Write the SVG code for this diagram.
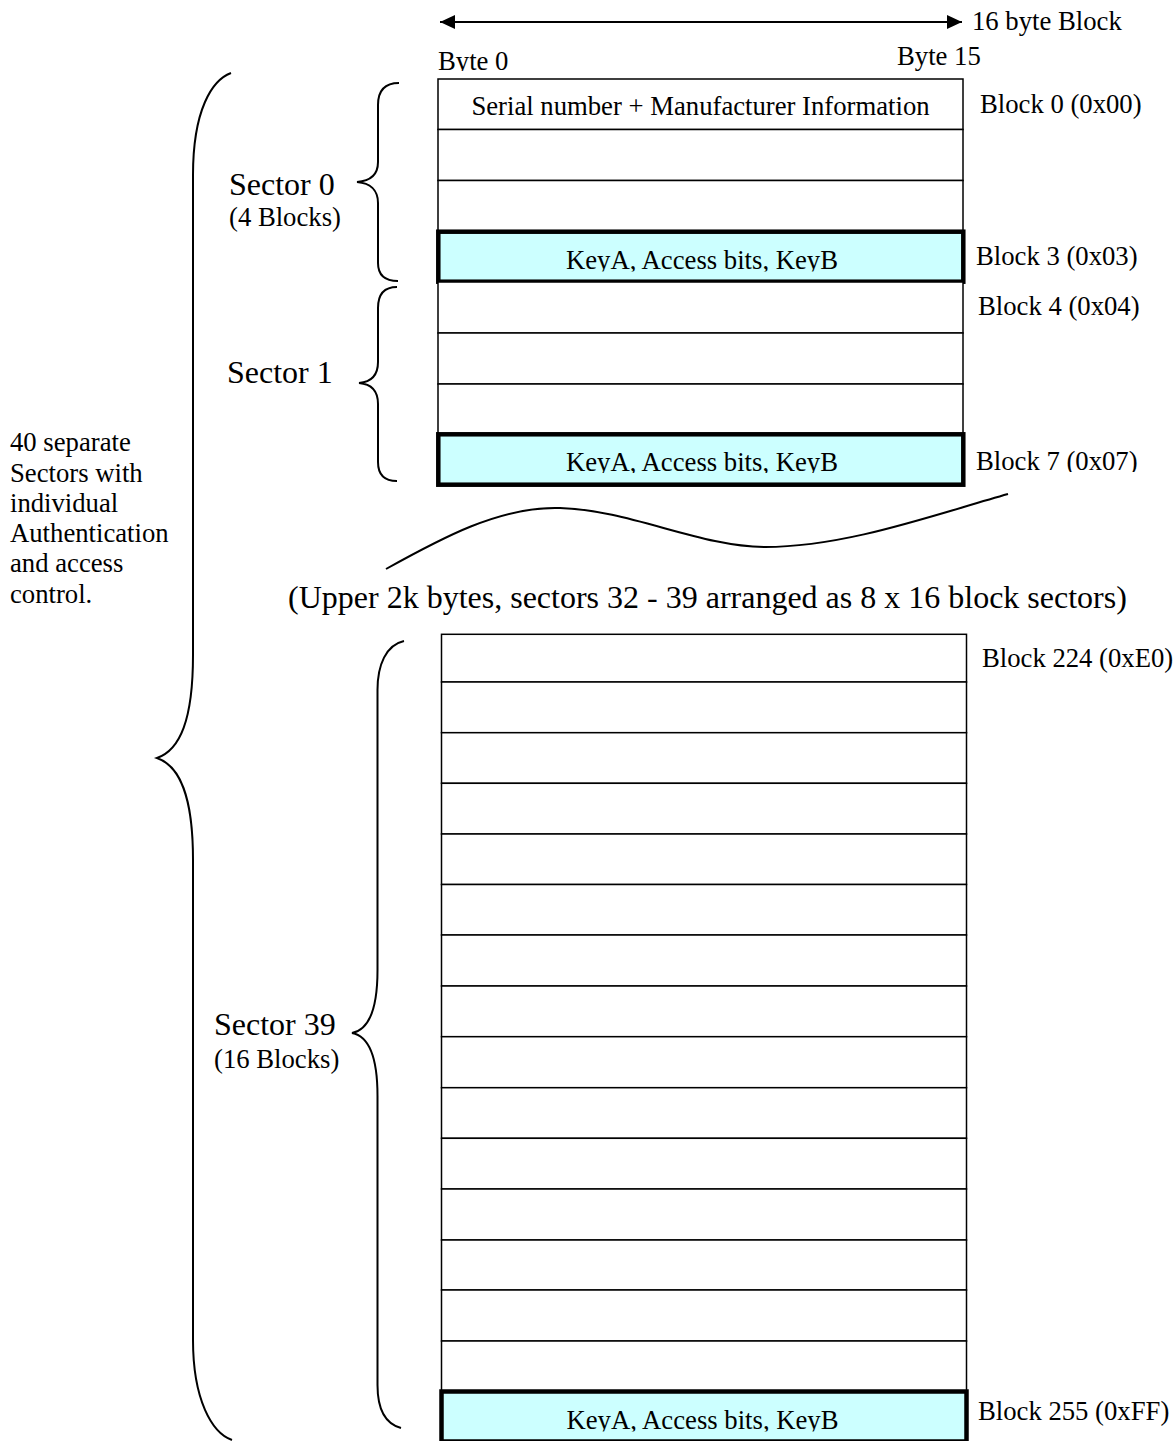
<svg xmlns="http://www.w3.org/2000/svg" width="1175" height="1441" viewBox="0 0 1175 1441">
<style>
.t{font-family:"Liberation Serif","Times New Roman",serif;font-size:26.7px;fill:#000}
.big{font-size:32px}
.mid{text-anchor:middle}
.cell{fill:#fff;stroke:#000;stroke-width:1.5}
.key{fill:#CCFFFF;stroke:#000;stroke-width:4.5}
.ln{fill:none;stroke:#000;stroke-width:2}
</style>
<defs>
<marker id="ah" viewBox="0 0 15 14" refX="15" refY="7" markerWidth="15" markerHeight="14" markerUnits="userSpaceOnUse" orient="auto-start-reverse">
<path d="M0,0 L15,7 L0,14 z" fill="#000"/>
</marker>
<clipPath id="cb0"><rect x="400" y="40" width="200" height="31"/></clipPath>
<clipPath id="ck3"><rect x="440" y="234" width="521" height="37.5"/></clipPath>
<clipPath id="ck7"><rect x="440" y="437" width="521" height="36"/></clipPath>
<clipPath id="cl7"><rect x="970" y="430" width="200" height="42"/></clipPath>
<clipPath id="ck255"><rect x="443" y="1394" width="521" height="37.5"/></clipPath>
</defs>
<rect width="1175" height="1441" fill="#fff"/>

<g id="connectors">
<line class="ln" x1="440" y1="22" x2="962" y2="22" marker-start="url(#ah)" marker-end="url(#ah)"/>
<path id="brace-all" class="ln" d="M231,73 C212,80 193,110 193,175 L193,655 C193,720 180,750 157,758 C180,766 193,796 193,860 L193,1340 C193,1400 212,1433 232,1440"/>
<path id="brace-s0" class="ln" d="M399,83 C385,83 378,90 378,105 L378,162 C378,175 370,181 357,182 C370,183 378,190 378,203 L378,263 C378,275 385,281 398,281"/>
<path id="brace-s1" class="ln" d="M397,287 C384,287 378,294 378,308 L378,362 C378,375 371,382 359,383 C371,384 378,391 378,404 L378,462 C378,475 384,481 397,481"/>
<path id="brace-s39" class="ln" d="M404,641 C386,645 377.5,665 377.5,690 L377.5,970 C377.5,1010 368,1030 352,1033 C368,1036 377.5,1056 377.5,1096 L377.5,1385 C377.5,1410 386,1424 401,1428"/>
<path id="gap-wave" class="ln" d="M386,569 C440,539 500,506 560,508 C630,510 700,547 765,547 C845,547 930,516 1008,494"/>
</g>

<g id="header">
<text class="t" x="972" y="30">16 byte Block</text>
<text class="t" x="438" y="70" clip-path="url(#cb0)">Byte 0</text>
<text class="t" x="897" y="65">Byte 15</text>
</g>

<g id="sector0">
<g id="block0"><rect class="cell" x="438" y="79" width="525" height="50.5"/><text class="t mid" x="700.5" y="115">Serial number + Manufacturer Information</text><text class="t" x="980" y="113">Block 0 (0x00)</text></g>
<g id="block1"><rect class="cell" x="438" y="129.5" width="525" height="51"/></g>
<g id="block2"><rect class="cell" x="438" y="180.5" width="525" height="51"/></g>
<g id="block3"><rect class="key" x="438.3" y="231.7" width="525" height="50"/><text class="t mid" x="702" y="269.3" clip-path="url(#ck3)">KeyA, Access bits, KeyB</text><text class="t" x="976" y="265">Block 3 (0x03)</text></g>
<text class="t big" x="229" y="195">Sector 0</text>
<text class="t" x="229" y="226">(4 Blocks)</text>
</g>

<g id="sector1">
<g id="block4"><rect class="cell" x="438" y="282" width="525" height="51"/><text class="t" x="978" y="315">Block 4 (0x04)</text></g>
<g id="block5"><rect class="cell" x="438" y="333" width="525" height="51"/></g>
<g id="block6"><rect class="cell" x="438" y="384" width="525" height="50.3"/></g>
<g id="block7"><rect class="key" x="438.3" y="434.3" width="525" height="50.4"/><text class="t mid" x="702" y="471" clip-path="url(#ck7)">KeyA, Access bits, KeyB</text><text class="t" x="976" y="470" clip-path="url(#cl7)">Block 7 (0x07)</text></g>
<text class="t big" x="227" y="383">Sector 1</text>
</g>

<g id="all-sectors-label">
<text class="t" x="10" y="451">40 separate</text>
<text class="t" x="10" y="481.5">Sectors with</text>
<text class="t" x="10" y="511.5">individual</text>
<text class="t" x="10" y="542">Authentication</text>
<text class="t" x="10" y="572">and access</text>
<text class="t" x="10" y="603">control.</text>
</g>

<g id="upper-note">
<text class="t big" x="288" y="608">(Upper 2k bytes, sectors 32 - 39 arranged as 8 x 16 block sectors)</text>
</g>

<g id="sector39">
<g id="block224"><rect class="cell" x="441.5" y="634.3" width="525" height="47.7"/><text class="t" x="982" y="667">Block 224 (0xE0)</text></g>
<rect class="cell" x="441.5" y="682" width="525" height="50.7"/>
<rect class="cell" x="441.5" y="732.7" width="525" height="50.6"/>
<rect class="cell" x="441.5" y="783.3" width="525" height="50.7"/>
<rect class="cell" x="441.5" y="834" width="525" height="50.5"/>
<rect class="cell" x="441.5" y="884.5" width="525" height="50.5"/>
<rect class="cell" x="441.5" y="935" width="525" height="51"/>
<rect class="cell" x="441.5" y="986" width="525" height="50.7"/>
<rect class="cell" x="441.5" y="1036.7" width="525" height="51"/>
<rect class="cell" x="441.5" y="1087.7" width="525" height="50.6"/>
<rect class="cell" x="441.5" y="1138.3" width="525" height="50.7"/>
<rect class="cell" x="441.5" y="1189" width="525" height="51"/>
<rect class="cell" x="441.5" y="1240" width="525" height="50"/>
<rect class="cell" x="441.5" y="1290" width="525" height="51"/>
<rect class="cell" x="441.5" y="1341" width="525" height="50.5"/>
<g id="block255"><rect class="key" x="441.5" y="1391.5" width="525" height="50"/><text class="t mid" x="702.5" y="1429.3" clip-path="url(#ck255)">KeyA, Access bits, KeyB</text><text class="t" x="978" y="1420">Block 255 (0xFF)</text></g>
<text class="t big" x="214" y="1035">Sector 39</text>
<text class="t" x="214" y="1067.7">(16 Blocks)</text>
</g>
</svg>
